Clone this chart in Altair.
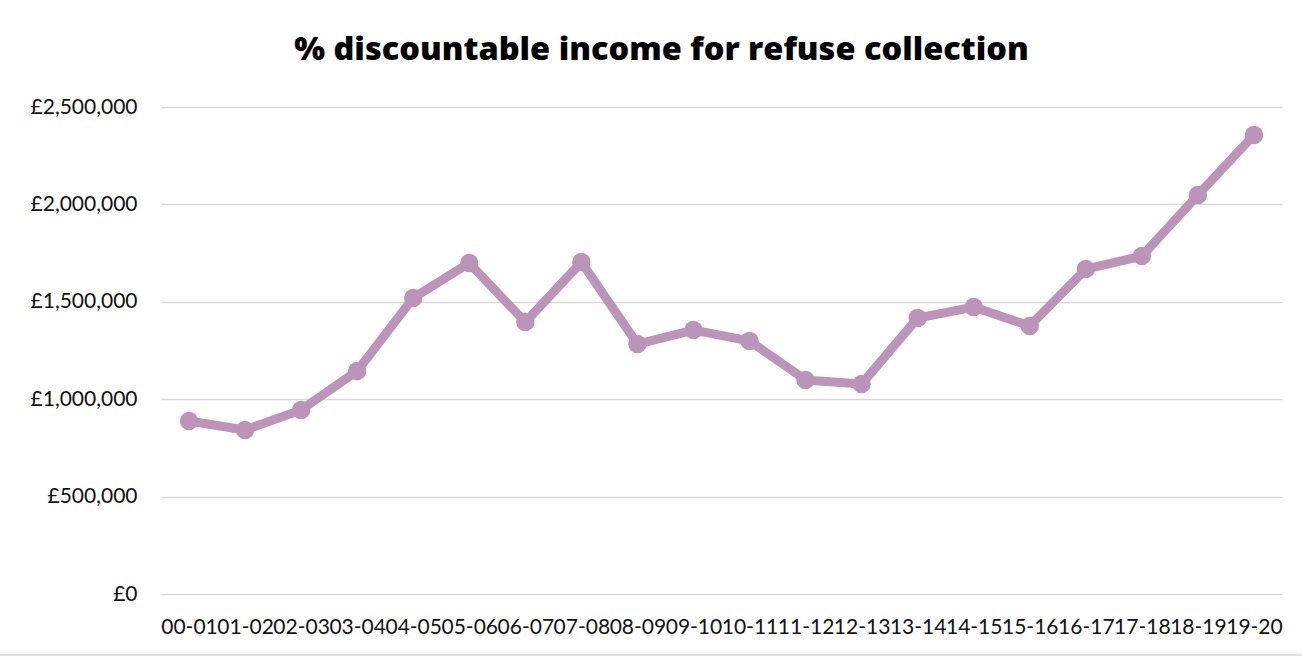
import altair as alt
import pandas as pd

periods = ["00-01", "01-02", "02-03", "03-04", "04-05", "05-06", "06-07", "07-08",
           "08-09", "09-10", "10-11", "11-12", "12-13", "13-14", "14-15", "15-16",
           "16-17", "17-18", "18-19", "19-20"]
values = [888000, 842000, 945000, 1145000, 1520000, 1699000, 1396000, 1704000,
          1283000, 1355000, 1299000, 1099000, 1078000, 1417000, 1473000, 1376000,
          1668000, 1735000, 2048000, 2356000]
y_ticks = [0, 500000, 1000000, 1500000, 2000000, 2500000]

df = pd.DataFrame({"period": periods, "value": values})

LINE_COLOR = "#bc94ba"
FONT = "Lato"

base = alt.Chart(df).encode(
    x=alt.X("period:O", sort=periods, title=None,
            axis=alt.Axis(labelAngle=0, domain=False, ticks=False, grid=False,
                          labelOverlap=False, labelBound=False, labelPadding=22,
                          labelFontSize=21, labelFont=FONT, labelColor="#111111")),
    y=alt.Y("value:Q", title=None,
            scale=alt.Scale(domain=[0, 2500000], nice=False, zero=True),
            axis=alt.Axis(values=y_ticks, domain=False, ticks=False, grid=True,
                          gridColor="#d9d9d9", gridWidth=1.5,
                          labelExpr="'£' + format(datum.value, ',')",
                          labelPadding=24, labelFontSize=21, labelFont=FONT,
                          labelColor="#111111")),
)

line = base.mark_line(color=LINE_COLOR, strokeWidth=9, strokeJoin="round")
points = base.mark_circle(color=LINE_COLOR, size=340, opacity=1)

border = alt.Chart(pd.DataFrame({"a": [0]})).mark_rule(color="#d9d9d9", strokeWidth=1.5).encode(
    x=alt.value(-161), x2=alt.value(1141), y=alt.value(548)
)

chart = alt.layer(line, points, border).properties(
    width=1121, height=487,
    background="white",
    title=alt.TitleParams("% discountable income for refuse collection",
                          font="Open Sans", fontSize=32.5, fontWeight=800, color="#000000",
                          anchor="middle", dx=-60, offset=30),
    autosize=alt.AutoSizeParams(type="none"),
    padding={"left": 161, "top": 107, "right": 20, "bottom": 63},
).configure_view(strokeWidth=0, stroke="transparent")

chart.save("out.html", embed_options={"renderer": "svg", "actions": False})
